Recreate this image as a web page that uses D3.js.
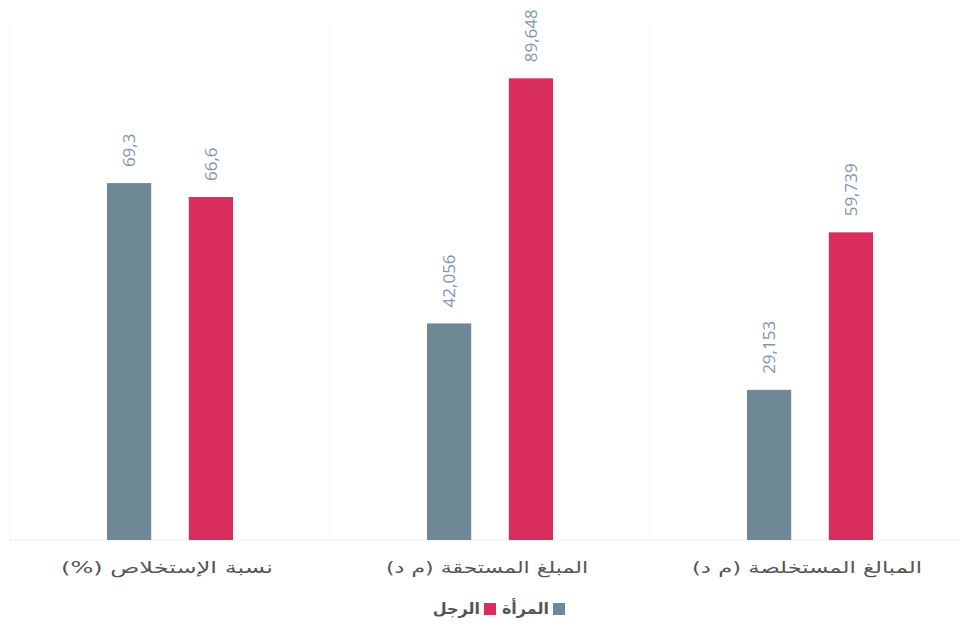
<!DOCTYPE html>
<html><head><meta charset="utf-8">
<script src="https://cdn.jsdelivr.net/npm/d3@7"></script>
<style>body{margin:0;background:#fff;}svg{display:block;}</style>
</head><body>
<svg id="chart" width="960" height="628"></svg>
<script>
const categories = ["نسبة الإستخلاص (%)", "المبلغ المستحقة (م د)", "المبالغ المستخلصة (م د)"];
const seriesNames = ["المرأة", "الرجل"];
const womenValues = [69.3, 42.056, 29.153];
const menValues = [66.6, 89.648, 59.739];
const womenLabels = ["69,3", "42,056", "29,153"];
const menLabels = ["66,6", "89,648", "59,739"];
const colors = ["#6f8896", "#d82d5d"];

const svg = d3.select("#chart");
const x0 = d3.scaleBand().domain(categories).range([10, 970]).paddingInner(0).paddingOuter(0);
const x1 = d3.scaleBand().domain(seriesNames).range([x0.bandwidth()/2 - 63, x0.bandwidth()/2 + 63]).paddingInner(0.46).paddingOuter(0);
const y = d3.scaleLinear().domain([0, 100]).range([540, 25]);

// separators
const seps = categories.map(c => x0(c));
svg.append("g").selectAll("line").data(seps).join("line")
  .attr("x1", d => d).attr("x2", d => d).attr("y1", y(100)).attr("y2", y(0))
  .attr("stroke", "#efefef").attr("stroke-width", 1).attr("stroke-dasharray", "3,1");
svg.append("line").attr("x1", 10).attr("x2", 970).attr("y1", y(0)).attr("y2", y(0))
  .attr("stroke", "#e6e6e6").attr("stroke-dasharray", "3,1");

const data = categories.map((c, i) => ({
  cat: c,
  vals: [
    {s: seriesNames[0], v: womenValues[i], label: womenLabels[i], color: colors[0]},
    {s: seriesNames[1], v: menValues[i], label: menLabels[i], color: colors[1]}
  ]
}));

const g = svg.append("g").selectAll("g").data(data).join("g")
  .attr("transform", d => `translate(${x0(d.cat)},0)`);

g.selectAll("rect").data(d => d.vals).join("rect")
  .attr("x", d => x1(d.s)).attr("width", x1.bandwidth())
  .attr("y", d => y(d.v)).attr("height", d => y(0) - y(d.v))
  .attr("fill", d => d.color);

g.selectAll("text.val").data(d => d.vals).join("text")
  .attr("class", "val")
  .attr("transform", d => `translate(${x1(d.s) + x1.bandwidth()/2 + 6},${y(d.v) - 16}) rotate(-90)`)
  .attr("text-anchor", "start")
  .attr("font-family", "'Open Sans', 'DejaVu Sans', sans-serif")
  .attr("font-size", 17)
  .attr("fill", "#8097ae")
  .text(d => d.label);

// category axis labels
const labelWidths = [212, 202, 230];
svg.append("g").selectAll("text").data(categories).join("text")
  .attr("x", d => x0(d) + x0.bandwidth()/2 - 3)
  .attr("y", 573)
  .attr("text-anchor", "middle")
  .attr("direction", "rtl")
  .attr("font-family", "'DejaVu Sans', sans-serif")
  .attr("font-size", 16)
  .attr("textLength", (d, i) => labelWidths[i])
  .attr("lengthAdjust", "spacingAndGlyphs")
  .attr("fill", "#555")
  .text(d => d);

// legend
const legend = svg.append("g").attr("font-family", "'DejaVu Sans', sans-serif").attr("font-size", 16).attr("font-weight", "bold");
const legItems = [
  {name: seriesNames[0], color: colors[0], sq: 553, tx: 549},
  {name: seriesNames[1], color: colors[1], sq: 484, tx: 480}
];
legItems.forEach(it => {
  legend.append("rect").attr("x", it.sq).attr("y", 603).attr("width", 12).attr("height", 12).attr("fill", it.color);
  legend.append("text").attr("x", it.tx).attr("y", 614).attr("text-anchor", "end").attr("fill", "#555").text(it.name);
});
</script>
</body></html>
